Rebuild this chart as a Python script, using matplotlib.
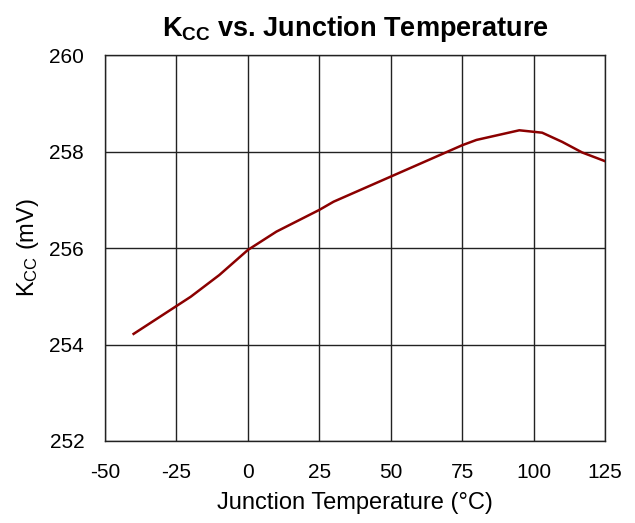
import matplotlib
matplotlib.use("Agg")
import matplotlib.pyplot as plt

temps = [-40, -20, -10, 0, 10, 25, 30, 40, 50, 60, 75, 80, 95, 103, 110, 117, 125]
kcc = [254.22, 254.99, 255.44, 255.96, 256.34, 256.79, 256.96, 257.22, 257.48,
       257.74, 258.13, 258.24, 258.44, 258.39, 258.2, 257.98, 257.8]
xticks = [-50, -25, 0, 25, 50, 75, 100, 125]
yticks = [252, 254, 256, 258, 260]

plt.rcParams['font.family'] = ['Liberation Sans', 'DejaVu Sans']
plt.rcParams['mathtext.fontset'] = 'custom'
plt.rcParams['mathtext.rm'] = 'Liberation Sans'
plt.rcParams['mathtext.bf'] = 'Liberation Sans:bold'
plt.rcParams['mathtext.it'] = 'Liberation Sans:italic'
plt.rcParams['axes.unicode_minus'] = False

fig = plt.figure(figsize=(6.35, 5.23), dpi=100)
ax = fig.add_axes([0.1654, 0.1568, 0.7874, 0.738])
ax.plot(temps, kcc, color='#8B0000', linewidth=1.8, zorder=3)
ax.set_xlim(-50, 125)
ax.set_ylim(252, 260)
ax.set_xticks(xticks)
ax.set_yticks(yticks)
ax.grid(True, color='#222222', linewidth=1.0)
for s in ax.spines.values():
    s.set_color('#222222')
    s.set_linewidth(1.0)
ax.tick_params(axis='both', labelsize=15, length=0)
ax.tick_params(axis='x', pad=16)
ax.tick_params(axis='y', pad=15)
ax.set_xlabel('Junction Temperature (°C)', fontsize=17, labelpad=7)
ax.set_ylabel(r'K$_{\mathregular{CC}}$ (mV)', fontsize=17, labelpad=6)
ax.set_title(r'$\mathbf{K_{CC}}$ vs. Junction Temperature', fontsize=19.5, fontweight='bold', pad=14)
fig.savefig('out.png', dpi=100)
